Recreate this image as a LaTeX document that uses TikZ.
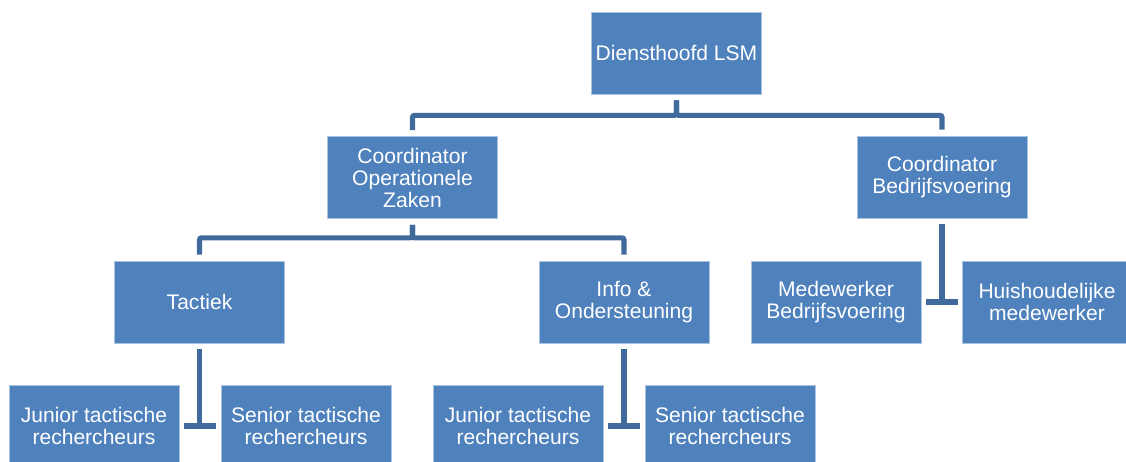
\documentclass[tikz,border=0pt]{standalone}
\usepackage{fontspec}
\setmainfont{Liberation Sans}
\usepackage{tikz}
\usepackage{xcolor}
\usetikzlibrary{
    calc,
    positioning
}
\definecolor{boxblue}{RGB}{79,129,189}
\definecolor{boxedge}{RGB}{170,195,225}
\definecolor{linkblue}{RGB}{65,106,156}

\begin{document}
\begin{tikzpicture}[x=0.75pt, y=-0.75pt,
        unit/.style={rectangle, fill=boxblue, draw=boxedge, line width=0.5pt,
            minimum width=127.5pt, minimum height=61.5pt, inner sep=0pt,
            text=white, align=center,
            font=\fontsize{15.8}{16.5}\selectfont},
        link/.style={draw=linkblue, line width=3.8pt, rounded corners=1.5pt,
            shorten <=4.5pt, shorten >=4.5pt},
        tee/.style={draw=linkblue, line width=3.8pt}]
    \clip (0, 0) rectangle (1126, 461);

    \node[unit] (dh) at (676.5, 53) {Diensthoofd LSM};
    \node[unit] (coz) at (412.5, 177.5) {Coordinator\\Operationele\\Zaken};
    \node[unit] (cbv) at (942, 177) {Coordinator\\Bedrijfsvoering};
    \node[unit] (tac) at (199.5, 302) {Tactiek};
    \node[unit] (ios) at (624, 302) {Info \&\\Ondersteuning};
    \node[unit] (mbv) at (836, 302) {Medewerker\\Bedrijfsvoering};
    \node[unit] (hhm) at (1047, 302) {Huishoudelijke\\medewerker};
    \node[unit] (jtr1) at (94, 426) {Junior tactische\\rechercheurs};
    \node[unit] (str1) at (306, 426) {Senior tactische\\rechercheurs};
    \node[unit] (jtr2) at (518, 426) {Junior tactische\\rechercheurs};
    \node[unit] (str2) at (730, 426) {Senior tactische\\rechercheurs};

    \coordinate (t1) at (tac.south |- jtr1.east);
    \coordinate (t2) at (ios.south |- jtr2.east);
    \coordinate (t3) at (cbv.south |- mbv.east);

    \draw[link] (dh.south) -- ++(0, 21) -| (coz.north);
    \draw[link] (dh.south) -- ++(0, 21) -| (cbv.north);
    \draw[link] (coz.south) -- ++(0, 19) -| (tac.north);
    \draw[link] (coz.south) -- ++(0, 19) -| (ios.north);

    \draw[link, shorten >=0pt] (tac.south) -- (t1);
    \draw[link, shorten >=0pt] (ios.south) -- (t2);
    \draw[link, shorten >=0pt] (cbv.south) -- (t3);
    \draw[tee]
    ($(t1) + (-16, 0)$) -- ($(t1) + (16, 0)$)
    ($(t2) + (-16, 0)$) -- ($(t2) + (16, 0)$)
    ($(t3) + (-16, 0)$) -- ($(t3) + (16, 0)$);
\end{tikzpicture}
\end{document}
